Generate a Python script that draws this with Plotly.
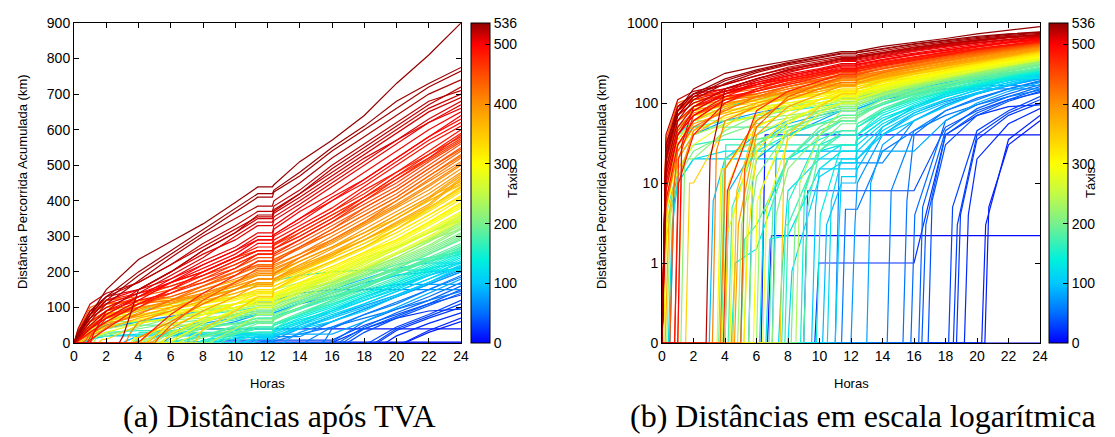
import plotly.graph_objects as go
from plotly.colors import sample_colorscale

# ---------------- data (read / estimated from the picture) ----------------
HOURS = [1, 2, 4, 6, 8, 10, 11.4, 12.4, 14, 16, 18, 20, 22, 24]
X_TICKS = list(range(0, 25, 2))
Y_TICKS_LIN = list(range(0, 901, 100))
LOG_TICK_VALS = [0.1, 1, 10, 100, 1000]
LOG_TICK_TEXT = ["0", "1", "10", "100", "1000"]
CBAR_TICKS = [0, 100, 200, 300, 400, 500, 536]
N_TAXIS = 536

taxi_rank = [0, 3, 8, 12, 15, 18, 21, 24, 27, 30, 33, 36, 40, 44, 48, 52, 56, 60, 64, 68, 72, 76, 80, 84, 88, 92, 95,
             100, 104, 108, 112, 116, 118, 122, 126, 130, 134, 138, 142, 146, 150, 155, 160, 163,
             166, 170, 174, 178, 182, 186, 190, 194, 198, 202, 206, 210, 214, 218, 222, 226, 230, 236, 242, 248, 255, 262,
             268, 274, 279, 284, 289, 294, 299, 304, 309, 314, 319, 324, 329, 334, 339, 344, 350, 356, 362, 368,
             374, 379, 384, 389, 394, 399, 404, 409, 414, 419, 424, 429, 434, 440, 446, 452, 458, 464, 470, 476,
             480, 484, 488, 492, 495, 498, 501, 504, 507, 510, 513, 516, 519, 522, 525, 528, 531, 533, 536]

start_hour = [24, 6.7, 6.3, 20.5, 20.3, 19.2, 9.7, 18.7, 18.5, 18.2, 9.0, 16.9, 16.5, 16.3, 15.8, 15.3, 11.4, 14.3, 11.0,
              0.5, 12.0, 5.5, 13.0, 7.0, 4.0, 10.2, 3.0,
              9.5, 0, 11.0, 8.0, 6.2, 10.5, 7.4, 0.4, 6.6, 0, 9.8, 4.4, 8.8, 5.0, 0, 7.8, 3.8,
              0, 7.6, 4.2, 5.0, 9.0, 0, 6.8, 3.6, 8.2, 0, 5.5, 7.0, 1.2, 0, 6.0, 4.8, 0.3, 8.5, 0, 3.7, 5.2, 0,
              3.8, 0, 6.4, 0, 4.3, 0, 5.8, 0, 3.5, 0, 5.2, 0.1, 0, 4.0, 0, 1.5, 7.5, 0, 4.5, 0,
              0.2, 0, 0, 4.6, 0, 1.0, 0, 3.2, 0, 3.7, 0, 0, 0, 0.5, 5.0, 0, 0, 0, 0.8, 0,
              3.9, 0, 0.8, 0, 0, 1.0, 0, 0, 0, 0, 0, 0, 0, 0, 2.8, 0, 0, 0, 0]

first_km = [0, 2.2, 40, 5, 3, 4, 1, 4, 3, 5, 8, 6, 3, 5, 4, 6, 4.7, 8, 17.8, 5, 3, 10, 10, 25, 8, 3, 6,
            5, 3, 3, 0.8, 4, 6, 1, 3, 2, 20, 4, 1, 8, 15, 10, 6, 30,
            4, 3, 5, 2, 5, 15, 6, 12, 3, 2, 5, 4, 20, 8, 8, 3, 5, 10, 25, 15, 6, 12,
            2, 18, 5, 3, 4, 12, 6, 4, 15, 20, 2, 6, 15, 10, 10, 10, 20, 30, 8, 6,
            4, 28, 8, 3, 18, 15, 12, 25, 20, 5, 35, 5, 35, 8, 15, 10, 25, 12, 20, 30,
            8, 14, 10, 6, 22, 30, 10, 18, 8, 25, 20, 12, 40, 30, 20, 15, 25, 30, 20]

km_at_hours = [
    # blue
    [0, 0, 0, 0, 0, 0, 0, 0, 0, 0, 0, 0, 0, 0],
    [0, 0, 0, 0, 2.2, 2.2, 2.2, 2.2, 2.2, 2.2, 2.2, 2.2, 2.2, 2.2],
    [0, 0, 0, 0, 40, 40, 40, 40, 40, 40, 40, 40, 40, 40],
    [0, 0, 0, 0, 0, 0, 0, 0, 0, 0, 0, 0, 30, 60],
    [0, 0, 0, 0, 0, 0, 0, 0, 0, 0, 0, 0, 35, 70],
    [0, 0, 0, 0, 0, 0, 0, 0, 0, 0, 0, 20, 55, 85],
    [0, 0, 0, 0, 0, 1, 1, 1, 1, 1, 40, 70, 90, 95],
    [0, 0, 0, 0, 0, 0, 0, 0, 0, 0, 0, 35, 70, 100],
    [0, 0, 0, 0, 0, 0, 0, 0, 0, 0, 0, 40, 75, 110],
    [0, 0, 0, 0, 0, 0, 0, 0, 0, 0, 0, 45, 80, 120],
    [0, 0, 0, 0, 0, 8, 8, 8, 8, 8, 50, 80, 110, 135],
    [0, 0, 0, 0, 0, 0, 0, 0, 0, 0, 30, 70, 105, 140],
    [0, 0, 0, 0, 0, 0, 0, 0, 0, 0, 40, 75, 110, 150],
    [0, 0, 0, 0, 0, 0, 0, 0, 0, 0, 45, 85, 120, 160],
    [0, 0, 0, 0, 0, 0, 0, 0, 0, 0, 60, 95, 130, 170],
    [0, 0, 0, 0, 0, 0, 0, 0, 0, 40, 80, 115, 150, 185],
    [0, 0, 0, 0, 0, 0, 0, 4.7, 25, 45, 70, 95, 120, 145],
    [0, 0, 0, 0, 0, 0, 0, 0, 0, 45, 80, 110, 150, 190],
    [0, 0, 0, 0, 0, 0, 17.8, 17.8, 17.8, 60, 95, 130, 165, 200],
    [20, 40, 60, 75, 90, 100, 115, 120, 140, 150, 150, 150, 150, 150],
    [0, 0, 0, 0, 0, 0, 0, 10, 40, 75, 105, 135, 170, 205],
    [0, 0, 0, 20, 40, 60, 80, 85, 110, 130, 150, 165, 165, 165],
    [0, 0, 0, 0, 0, 0, 0, 0, 30, 60, 95, 130, 165, 200],
    [0, 0, 0, 0, 25, 25, 25, 25, 25, 25, 60, 100, 140, 180],
    [0, 0, 0, 30, 55, 70, 80, 85, 110, 140, 170, 190, 200, 210],
    [0, 0, 0, 0, 0, 0, 10, 15, 50, 90, 130, 160, 190, 215],
    [0, 0, 20, 40, 60, 80, 90, 95, 120, 150, 180, 210, 225, 225],
    # cyan
    [0, 0, 0, 0, 0, 15, 15, 20, 40, 70, 100, 135, 170, 210],
    [10, 20, 20, 20, 20, 20, 20, 20, 40, 60, 90, 130, 170, 215],
    [0, 0, 0, 0, 0, 0, 12, 20, 45, 75, 110, 145, 180, 215],
    [0, 0, 0, 0, 0, 12, 18, 25, 50, 80, 110, 145, 180, 220],
    [0, 0, 0, 0, 20, 45, 60, 70, 95, 130, 160, 190, 210, 225],
    [0, 0, 0, 0, 0, 0, 20, 30, 55, 85, 120, 150, 190, 225],
    [0, 0, 0, 0, 8, 20, 30, 40, 65, 90, 120, 155, 190, 230],
    [10, 20, 25, 25, 25, 25, 30, 35, 60, 90, 125, 160, 195, 235],
    [0, 0, 0, 0, 2.2, 15, 25, 35, 60, 95, 130, 165, 200, 240],
    [40, 60, 90, 110, 130, 150, 165, 175, 190, 200, 205, 205, 205, 205],
    [0, 0, 0, 0, 0, 0, 30, 40, 70, 100, 135, 170, 205, 245],
    [0, 0, 0, 1.5, 20, 35, 45, 50, 75, 105, 140, 170, 210, 250],
    [0, 0, 0, 0, 0, 30, 40, 50, 80, 110, 140, 175, 215, 255],
    [0, 0, 0, 25, 40, 55, 70, 75, 100, 130, 160, 200, 230, 250],
    [30, 50, 60, 70, 80, 90, 100, 110, 130, 160, 190, 220, 240, 255],
    [0, 0, 0, 0, 6, 40, 60, 70, 100, 130, 165, 200, 230, 260],
    [0, 0, 30, 30, 30, 30, 30, 40, 80, 120, 160, 200, 230, 260],
    # green
    [15, 30, 35, 35, 40, 40, 45, 55, 80, 110, 145, 180, 220, 260],
    [0, 0, 0, 0, 3, 25, 40, 50, 80, 115, 150, 185, 225, 265],
    [0, 0, 0, 30, 50, 65, 80, 90, 115, 145, 175, 205, 235, 268],
    [0, 0, 0, 3, 20, 45, 60, 70, 95, 125, 160, 195, 230, 270],
    [0, 0, 0, 0, 0, 25, 45, 55, 85, 120, 155, 195, 235, 275],
    [40, 50, 50, 50, 50, 55, 60, 70, 100, 130, 160, 200, 240, 280],
    [0, 0, 0, 0, 20, 50, 70, 80, 110, 140, 175, 210, 250, 290],
    [0, 0, 20, 35, 45, 55, 60, 70, 100, 135, 170, 210, 250, 295],
    [0, 0, 0, 0, 0, 30, 55, 65, 100, 140, 175, 215, 255, 300],
    [12, 25, 40, 55, 65, 75, 85, 95, 120, 150, 185, 220, 260, 305],
    [0, 0, 0, 12, 45, 70, 85, 95, 125, 155, 190, 225, 265, 310],
    [0, 0, 0, 0, 15, 40, 65, 75, 110, 150, 190, 230, 270, 320],
    [0, 20, 45, 70, 90, 110, 120, 130, 150, 170, 210, 250, 290, 320],
    [35, 60, 60, 65, 70, 80, 90, 100, 130, 160, 195, 235, 275, 325],
    [0, 0, 0, 0, 45, 80, 100, 110, 140, 170, 205, 240, 285, 330],
    [0, 0, 0, 30, 60, 80, 95, 105, 135, 165, 200, 240, 285, 335],
    [20, 40, 55, 70, 80, 95, 105, 115, 145, 175, 210, 250, 290, 340],
    [0, 0, 0, 0, 0, 40, 80, 95, 125, 165, 205, 250, 290, 340],
    [60, 90, 100, 110, 120, 130, 140, 150, 170, 200, 240, 270, 310, 345],
    [0, 0, 15, 60, 90, 110, 125, 135, 160, 190, 230, 270, 310, 350],
    [0, 0, 0, 20, 60, 90, 110, 120, 150, 190, 230, 270, 310, 355],
    [50, 70, 80, 90, 100, 110, 120, 125, 150, 185, 220, 265, 310, 360],
    # yellow
    [0, 0, 8, 40, 65, 85, 100, 110, 140, 175, 210, 250, 295, 345],
    [60, 80, 80, 85, 90, 100, 110, 120, 150, 180, 215, 255, 300, 350],
    [0, 0, 0, 0, 35, 75, 100, 110, 145, 185, 225, 265, 310, 360],
    [15, 30, 55, 70, 85, 100, 115, 125, 155, 190, 230, 270, 315, 365],
    [0, 0, 0, 50, 80, 100, 120, 130, 160, 195, 235, 275, 320, 370],
    [45, 70, 75, 80, 95, 110, 125, 135, 165, 200, 240, 280, 330, 380],
    [0, 0, 0, 0, 55, 95, 120, 135, 165, 205, 245, 285, 335, 385],
    [25, 45, 65, 85, 100, 120, 135, 150, 180, 215, 255, 290, 340, 390],
    [0, 0, 15, 50, 80, 110, 130, 140, 170, 210, 250, 290, 340, 395],
    [70, 100, 100, 105, 110, 125, 140, 150, 180, 215, 255, 300, 350, 405],
    [0, 0, 0, 25, 70, 110, 140, 150, 185, 225, 265, 310, 360, 410],
    [35, 60, 80, 95, 110, 130, 145, 160, 195, 230, 270, 310, 360, 415],
    [60, 85, 90, 100, 115, 130, 150, 160, 190, 230, 270, 320, 370, 425],
    [0, 0, 10, 70, 110, 140, 160, 170, 200, 240, 280, 320, 375, 430],
    [40, 70, 95, 110, 130, 150, 165, 175, 205, 240, 280, 330, 380, 435],
    [0, 10, 50, 100, 130, 160, 180, 190, 220, 250, 290, 330, 380, 438],
    [0, 0, 0, 0, 40, 90, 130, 150, 190, 230, 270, 320, 380, 440],
    [80, 110, 120, 125, 130, 150, 170, 180, 210, 250, 300, 350, 400, 445],
    [0, 0, 0, 60, 110, 150, 180, 190, 230, 270, 310, 350, 400, 450],
    [30, 60, 90, 120, 150, 175, 190, 200, 230, 270, 310, 360, 410, 455],
    # orange
    [20, 40, 70, 90, 120, 140, 160, 175, 205, 245, 290, 335, 385, 460],
    [80, 110, 115, 120, 130, 150, 170, 180, 210, 250, 290, 340, 390, 465],
    [30, 55, 75, 100, 125, 150, 170, 180, 215, 255, 300, 350, 405, 470],
    [0, 0, 0, 40, 90, 130, 165, 180, 220, 265, 310, 360, 410, 475],
    [60, 80, 100, 115, 135, 160, 180, 195, 230, 270, 320, 370, 420, 480],
    [0, 45, 85, 110, 140, 165, 190, 205, 240, 280, 330, 380, 430, 490],
    [50, 75, 95, 120, 140, 170, 195, 210, 240, 285, 335, 385, 440, 500],
    [0, 0, 60, 90, 130, 170, 200, 215, 250, 290, 340, 390, 445, 505],
    [60, 90, 110, 120, 150, 180, 205, 220, 250, 300, 350, 400, 455, 510],
    [0, 0, 15, 60, 110, 150, 180, 195, 240, 290, 340, 400, 460, 520],
    [90, 110, 120, 130, 160, 190, 220, 235, 270, 310, 360, 410, 470, 525],
    [25, 50, 80, 120, 160, 190, 215, 230, 265, 310, 360, 410, 470, 530],
    [100, 120, 130, 150, 170, 200, 220, 235, 270, 320, 370, 420, 480, 540],
    [30, 60, 110, 130, 160, 200, 230, 245, 280, 330, 380, 430, 490, 545],
    [0, 0, 0, 50, 120, 170, 210, 225, 270, 320, 380, 430, 490, 550],
    [40, 70, 100, 140, 180, 210, 240, 255, 290, 340, 390, 440, 500, 560],
    [70, 100, 130, 160, 190, 220, 250, 265, 300, 350, 400, 450, 510, 565],
    [45, 80, 130, 170, 200, 240, 260, 275, 310, 360, 410, 460, 515, 570],
    [0, 70, 110, 140, 180, 220, 250, 265, 310, 360, 410, 470, 520, 575],
    [80, 120, 140, 160, 190, 230, 260, 275, 320, 370, 420, 480, 530, 580],
    # red
    [0, 0, 20, 80, 140, 190, 230, 250, 290, 340, 400, 460, 520, 585],
    [60, 90, 120, 140, 170, 210, 250, 265, 300, 350, 410, 470, 530, 590],
    [0, 40, 100, 150, 190, 230, 260, 280, 320, 370, 430, 480, 540, 600],
    [30, 60, 110, 150, 200, 240, 270, 290, 330, 380, 440, 500, 560, 610],
    [80, 110, 140, 170, 200, 240, 280, 300, 340, 400, 450, 510, 570, 620],
    [0, 90, 130, 170, 210, 250, 290, 305, 350, 400, 460, 520, 580, 630],
    [40, 70, 120, 170, 220, 260, 290, 305, 350, 410, 460, 520, 580, 640],
    [70, 120, 150, 180, 220, 260, 300, 320, 370, 420, 480, 540, 600, 650],
    [40, 80, 130, 180, 230, 270, 310, 330, 380, 440, 500, 560, 620, 660],
    [90, 130, 150, 200, 250, 290, 330, 345, 390, 450, 510, 570, 620, 670],
    [70, 100, 140, 190, 240, 300, 340, 355, 400, 460, 520, 570, 630, 680],
    [50, 90, 150, 200, 260, 310, 350, 365, 410, 470, 530, 590, 650, 690],
    [110, 140, 170, 220, 270, 320, 355, 370, 420, 480, 540, 600, 660, 700],
    [90, 130, 170, 220, 280, 330, 370, 385, 430, 500, 560, 620, 680, 710],
    [0, 0, 150, 200, 260, 310, 360, 375, 420, 490, 550, 610, 670, 720],
    [60, 110, 175, 240, 300, 350, 385, 400, 450, 520, 580, 640, 700, 740],
    [70, 120, 190, 250, 310, 370, 410, 425, 470, 540, 600, 660, 720, 765],
    [80, 130, 200, 260, 320, 380, 420, 430, 480, 550, 610, 680, 730, 775],
    [80, 150, 235, 285, 335, 395, 439, 445, 510, 570, 640, 730, 810, 900],
]

# ---------------- styling ----------------
PALETTE = [
    [0.000, "rgb(0,0,255)"],
    [0.093, "rgb(0,110,255)"],
    [0.187, "rgb(0,200,255)"],
    [0.260, "rgb(0,240,220)"],
    [0.373, "rgb(120,240,140)"],
    [0.466, "rgb(195,250,70)"],
    [0.560, "rgb(255,255,0)"],
    [0.653, "rgb(255,200,0)"],
    [0.746, "rgb(255,145,0)"],
    [0.840, "rgb(255,75,0)"],
    [0.933, "rgb(255,0,0)"],
    [1.000, "rgb(145,0,0)"],
]
FONT = "Liberation Sans, Arial, sans-serif"
W, H = 1115, 437
PAGE_OFFSET = 8  # default body margin of the html page


def px_x(p):
    return (p - PAGE_OFFSET) / W


def px_y(p):
    return (H - (p - PAGE_OFFSET)) / H


def taxi_path(i):
    s, f, vals = start_hour[i], first_km[i], km_at_hours[i]
    if s >= 24:
        return [0, 24], [0, 0]
    xs, ys = ([0, s] if s > 0 else [0]), ([0, 0] if s > 0 else [0])
    xs.append(s + 0.25)
    ys.append(f)
    for h, v in zip(HOURS, vals):
        if h <= s + 0.25:
            continue
        if h == 12.4 and xs[-1] == 11.4:
            xs.append(12.3)
            ys.append(ys[-1])
        xs.append(h)
        ys.append(v)
    return xs, ys


fig = go.Figure()
order = sorted(range(len(taxi_rank)), key=lambda k: taxi_rank[k])
for i in order:
    col = sample_colorscale(PALETTE, [taxi_rank[i] / N_TAXIS])[0]
    xs, ys = taxi_path(i)
    fig.add_trace(go.Scatter(x=xs, y=ys, mode="lines", line=dict(color=col, width=1.2),
                             xaxis="x", yaxis="y", hoverinfo="skip", showlegend=False))
    fig.add_trace(go.Scatter(x=xs, y=[max(v, 0.1) for v in ys], mode="lines",
                             line=dict(color=col, width=1.2),
                             xaxis="x2", yaxis="y2", hoverinfo="skip", showlegend=False))

A_L, A_R, B_L, B_R, TOP, BOT = 74, 461, 662, 1040, 23, 343
for xa, ya, cx in [("x", "y", 471), ("x2", "y2", 1049)]:
    fig.add_trace(go.Scatter(
        x=[12], y=[1], mode="markers", xaxis=xa, yaxis=ya, hoverinfo="skip", showlegend=False,
        marker=dict(size=1, opacity=0, color=[0], cmin=0, cmax=N_TAXIS, colorscale=PALETTE,
                    showscale=True,
                    colorbar=dict(x=px_x(cx), xanchor="left", xpad=0, ypad=0,
                                  y=px_y(BOT), yanchor="bottom", len=(BOT - TOP) / H,
                                  lenmode="fraction", thickness=19, thicknessmode="pixels",
                                  outlinewidth=1, outlinecolor="black", borderwidth=0,
                                  tickmode="array", tickvals=CBAR_TICKS, ticks="inside",
                                  ticklen=5, tickcolor="black",
                                  tickfont=dict(family=FONT, size=14, color="black")))))

axis_common = dict(showline=True, linecolor="black", linewidth=1, mirror="ticks", ticks="inside",
                   ticklen=5, tickcolor="black", showgrid=False, zeroline=False,
                   tickfont=dict(family=FONT, size=14, color="black"))

fig.update_layout(
    width=W, height=H, margin=dict(l=0, r=0, t=0, b=0, autoexpand=False),
    paper_bgcolor="white", plot_bgcolor="white", showlegend=False,
    xaxis=dict(domain=[px_x(A_L), px_x(A_R)], range=[0, 24], tickvals=X_TICKS, anchor="y", **axis_common),
    yaxis=dict(domain=[px_y(BOT), px_y(TOP)], range=[0, 900], tickvals=Y_TICKS_LIN, anchor="x", **axis_common),
    xaxis2=dict(domain=[px_x(B_L), px_x(B_R)], range=[0, 24], tickvals=X_TICKS, anchor="y2", **axis_common),
    yaxis2=dict(domain=[px_y(BOT), px_y(TOP)], type="log", range=[-1, 3], tickvals=LOG_TICK_VALS,
                ticktext=LOG_TICK_TEXT, anchor="x2", **axis_common),
)

ann = []
title_font = dict(family=FONT, size=13, color="black")
for xc, yc, txt, ang in [(22, 182, "Distância Percorrida Acumulada (km)", -90),
                         (601, 182, "Distância Percorrida Acumulada (km)", -90),
                         (267, 383, "Horas", 0), (851, 383, "Horas", 0),
                         (512, 182, "Táxis", -90), (1090, 182, "Táxis", -90)]:
    ann.append(dict(x=px_x(xc), y=px_y(yc), xref="paper", yref="paper", text=txt, textangle=ang,
                    showarrow=False, xanchor="center", yanchor="middle", font=title_font))
cap_font = dict(family="Liberation Serif, Times New Roman, serif", size=32, color="black")
ann.append(dict(x=px_x(279), y=px_y(416), xref="paper", yref="paper", text="(a) Distâncias após TVA",
                showarrow=False, xanchor="center", yanchor="middle", font=cap_font))
ann.append(dict(x=px_x(863), y=px_y(416), xref="paper", yref="paper",
                text="(b) Distâncias em escala logarítmica",
                showarrow=False, xanchor="center", yanchor="middle", font=cap_font))
fig.update_layout(annotations=ann)

fig.write_html("out.html")
